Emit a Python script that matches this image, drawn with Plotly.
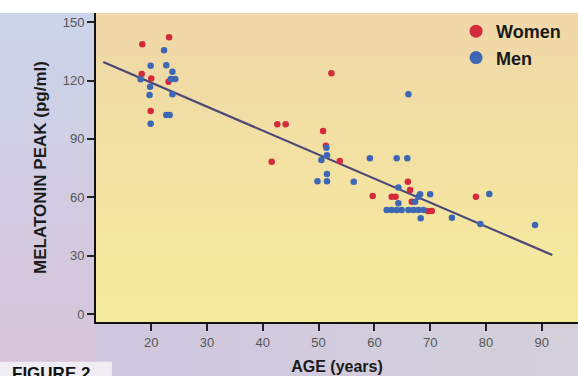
import plotly.graph_objects as go

# ---- data ----
women_age = [18.4, 23.2, 18.3, 20.0, 23.1, 19.9, 42.6, 44.1, 50.8, 41.6, 53.8, 52.3,
             51.3, 66.0, 66.4, 59.7, 63.1, 63.8, 66.7, 69.6, 70.3, 78.2]
women_peak = [138.7, 142.2, 123.3, 121.1, 119.4, 104.3, 97.5, 97.5, 94.0, 78.3, 78.7, 123.8,
              86.5, 68.0, 63.7, 60.6, 60.3, 60.3, 57.7, 52.9, 52.9, 60.3]

men_age = [22.3, 19.9, 22.7, 23.8, 18.1, 23.5, 24.3, 19.8, 19.7, 23.8, 22.7, 23.3, 19.9,
           51.4, 51.5, 50.5, 51.5, 49.8, 51.5, 56.3, 59.2, 64.0, 65.9, 66.1,
           64.3, 67.9, 68.2, 70.0, 64.3, 67.3,
           62.2, 63.1, 64.0, 64.9, 66.1, 67.0, 67.9, 68.8,
           68.3, 73.9, 79.0, 80.6, 88.8]
men_peak = [135.5, 127.6, 127.8, 124.5, 120.6, 120.8, 120.8, 116.8, 112.5, 113.0, 102.3, 102.3, 97.8,
            85.5, 81.6, 79.1, 72.0, 68.2, 68.2, 68.0, 80.0, 80.0, 80.0, 113.0,
            65.0, 60.3, 61.5, 61.5, 56.9, 57.7,
            53.4, 53.4, 53.4, 53.4, 53.4, 53.4, 53.4, 53.4,
            49.2, 49.5, 46.2, 61.7, 45.7]

fit_age = [11.4, 91.9]
fit_peak = [129.5, 30.3]

x_ticks = [20, 30, 40, 50, 60, 70, 80, 90]
y_ticks = [0, 30, 60, 90, 120, 150]

WOMEN = "#d42a3c"
MEN = "#3d66b4"
FONT = "Liberation Sans, Arial, Helvetica, sans-serif"

fig = go.Figure()

fig.add_trace(go.Scatter(x=fit_age, y=fit_peak, mode="lines",
                         line=dict(color="#4b4878", width=2.2),
                         showlegend=False, hoverinfo="skip"))
fig.add_trace(go.Scatter(x=women_age, y=women_peak, mode="markers", name="Women",
                         marker=dict(color=WOMEN, size=6.5), showlegend=False))
fig.add_trace(go.Scatter(x=men_age, y=men_peak, mode="markers", name="Men",
                         marker=dict(color=MEN, size=6.5), showlegend=False))
# legend entries (larger symbols, as in the printed key)
fig.add_trace(go.Scatter(x=[None], y=[None], mode="markers", name="<b>Women</b>",
                         marker=dict(color=WOMEN, size=13)))
fig.add_trace(go.Scatter(x=[None], y=[None], mode="markers", name="<b>Men</b>",
                         marker=dict(color=MEN, size=13)))

shapes = []
# left paper gradient (bluish lavender -> pinkish lavender)
n = 14
top_c = (204, 212, 234)
bot_c = (216, 196, 218)
for i in range(n):
    t = i / (n - 1)
    c = tuple(int(top_c[k] + (bot_c[k] - top_c[k]) * t) for k in range(3))
    shapes.append(dict(type="rect", xref="paper", yref="paper",
                       x0=-0.21, x1=0, y0=1 - (i + 1) / n * 1.2, y1=1 - i / n * 1.2 + 0.002,
                       fillcolor="rgb(%d,%d,%d)" % c, line=dict(width=0), layer="below"))
# bottom band gradient left->right
m = 10
l_c = (208, 200, 224)
r_c = (212, 208, 218)
for i in range(m):
    t = i / (m - 1)
    c = tuple(int(l_c[k] + (r_c[k] - l_c[k]) * t) for k in range(3))
    shapes.append(dict(type="rect", xref="paper", yref="paper",
                       x0=i / m, x1=(i + 1) / m + 0.002, y0=-0.2, y1=0,
                       fillcolor="rgb(%d,%d,%d)" % c, line=dict(width=0), layer="below"))
# plot area gradient top->bottom
p = 14
pt = (240, 216, 168)
pb = (246, 236, 158)
for i in range(p):
    t = i / (p - 1)
    c = tuple(int(pt[k] + (pb[k] - pt[k]) * t) for k in range(3))
    shapes.append(dict(type="rect", xref="paper", yref="paper",
                       x0=0, x1=1, y0=1 - (i + 1) / p, y1=1 - i / p + 0.002,
                       fillcolor="rgb(%d,%d,%d)" % c, line=dict(width=0), layer="below"))
# white strip on top
shapes.append(dict(type="rect", xref="paper", yref="paper", x0=-0.21, x1=1.01,
                   y0=1.0, y1=1.06, fillcolor="white", line=dict(width=0), layer="below"))
# light patch behind FIGURE caption
shapes.append(dict(type="rect", xref="paper", yref="paper", x0=-0.21, x1=0.033,
                   y0=-0.2, y1=-0.129, fillcolor="#efedf3", line=dict(width=0), layer="below"))

fig.update_layout(
    width=578, height=376,
    margin=dict(l=96, r=0, t=13, b=54),
    paper_bgcolor="#cfcbe0",
    plot_bgcolor="#f4e4a2",
    font=dict(family=FONT, color="#222"),
    shapes=shapes,
    showlegend=True,
    legend=dict(x=0.747, y=1.0, xanchor="left", yanchor="top",
                bgcolor="rgba(0,0,0,0)", borderwidth=0,
                font=dict(size=18, color="#1a1a1a", family=FONT),
                itemsizing="trace", tracegroupgap=0),
    xaxis=dict(range=[10.1, 96.5], tickvals=x_ticks, ticks="outside", ticklen=7,
               tickwidth=2, tickcolor="#222", showgrid=False, zeroline=False,
               showline=True, linecolor="#111", linewidth=2,
               tickfont=dict(size=13, color="#555"),
               title=dict(text="<b>AGE (years)</b>", font=dict(size=16, color="#1a1a1a"),
                          standoff=12)),
    yaxis=dict(range=[-4.1, 154.7], tickvals=y_ticks, ticks="outside", ticklen=7,
               tickwidth=2, tickcolor="#222", showgrid=False, zeroline=False,
               showline=True, linecolor="#111", linewidth=2,
               tickfont=dict(size=13, color="#555"),
               title=dict(text="<b>MELATONIN PEAK (pg/ml)</b>", font=dict(size=17, color="#1a1a1a"),
                          standoff=12)),
    annotations=[dict(text="<b>FIGURE 2</b>", xref="paper", yref="paper",
                      x=-0.178, y=-0.166, xanchor="left", yanchor="middle",
                      showarrow=False, font=dict(size=17, color="#111", family=FONT))],
)

fig.write_html("out.html", config={"displayModeBar": False},
               post_script="document.body.style.margin='0';document.body.style.overflow='hidden';")
